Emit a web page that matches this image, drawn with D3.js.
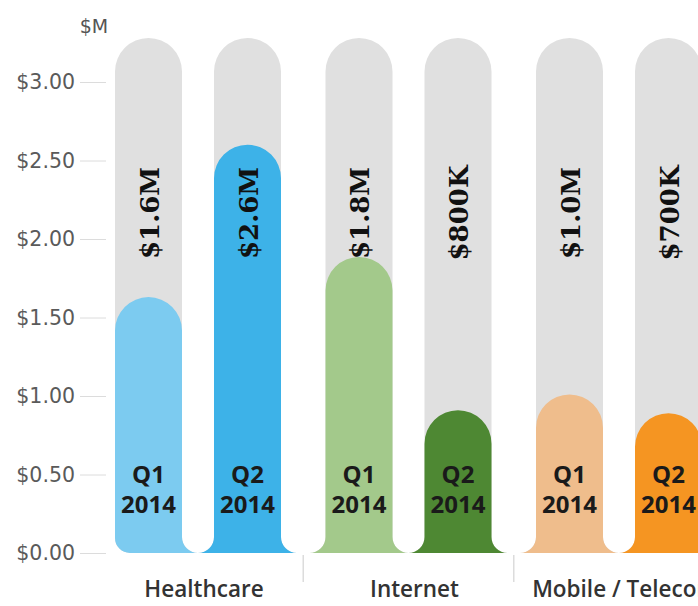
<!DOCTYPE html>
<html>
<head>
<meta charset="utf-8">
<script src="https://cdn.jsdelivr.net/npm/d3@7"></script>
<style>
    body { margin: 0; background: #fff; }
</style>
</head>
<body>
<script>
// values, $M
const categories = ["Healthcare", "Internet", "Mobile / Telecom"];
const quarters = ["Q1", "Q2"];
const year = "2014";
const q1Values = [1.63, 1.885, 1.01];
const q2Values = [2.60, 0.91, 0.89];
const q1Labels = ["$1.6M", "$1.8M", "$1.0M"];
const q2Labels = ["$2.6M", "$800K", "$700K"];
const trackMax = 3.28;
const tickValues = [0, 0.5, 1, 1.5, 2, 2.5, 3];

const colors = {
    "Healthcare": ["#7ccbf0", "#3db2e8"],
    "Internet": ["#a3c98b", "#4e8833"],
    "Mobile / Telecom": ["#efbd8c", "#f59522"]
};

const svgWidth = 698;
const svgHeight = 606;

const svg = d3.select("body").append("svg")
    .attr("width", svgWidth)
    .attr("height", svgHeight);

const data = categories.map((c, i) => ({
    category: c,
    bars: [
        {q: quarters[0], value: q1Values[i], label: q1Labels[i]},
        {q: quarters[1], value: q2Values[i], label: q2Labels[i]}
    ]
}));

const y = d3.scaleLinear().domain([0, 3]).range([553, 82]);

// group bands, outer padding = half the inner gap
const groupGap = 44.5 / 210.5;
const x0 = d3.scaleBand()
    .domain(categories)
    .range([115 - 22.25, 115 - 22.25 + 3 * 210.5])
    .paddingInner(groupGap)
    .paddingOuter(groupGap / 2);

const x1 = d3.scaleBand()
    .domain(quarters)
    .range([0, x0.bandwidth()])
    .paddingInner(0.3232);

const flare = 16;

// rounded top, flared base (first bar gets a plain rounded corner on the left)
function barPath(x, w, yTop, yBase, first) {
    const r = w / 2;
    const p = d3.path();
    p.moveTo(x, yTop + r);
    p.arc(x + r, yTop + r, r, Math.PI, 0);
    p.lineTo(x + w, yBase - flare);
    p.arc(x + w + flare, yBase - flare, flare, Math.PI, Math.PI / 2, true);
    if (first) {
        const c = 15;
        p.lineTo(x + c, yBase);
        p.arc(x + c, yBase - c, c, Math.PI / 2, Math.PI);
    } else {
        p.lineTo(x - flare, yBase);
        p.arc(x - flare, yBase - flare, flare, Math.PI / 2, 0, true);
    }
    p.closePath();
    return p.toString();
}

// y axis
const yAxis = svg.append("g")
    .attr("transform", "translate(106,0)")
    .call(d3.axisLeft(y)
        .tickValues(tickValues)
        .tickFormat(d3.format("$.2f"))
        .tickSize(26)
        .tickPadding(5));
yAxis.select(".domain").remove();
yAxis.selectAll(".tick line").attr("stroke", "#dcdcdc");
yAxis.selectAll(".tick text")
    .attr("fill", "#5a5a5a")
    .attr("font-family", "DejaVu Sans")
    .attr("font-size", "20.5px");

svg.append("text")
    .attr("x", 94)
    .attr("y", 33)
    .attr("text-anchor", "middle")
    .attr("fill", "#555")
    .attr("font-family", "DejaVu Sans")
    .attr("font-size", "19px")
    .text("$M");

const groups = svg.selectAll("g.group")
    .data(data)
    .join("g")
    .attr("class", "group")
    .attr("transform", d => `translate(${x0(d.category)},0)`);

const bars = groups.selectAll("g.bar")
    .data(d => d.bars.map((b, j) => ({...b, category: d.category, j: j})))
    .join("g")
    .attr("class", "bar");

// grey track
bars.append("path")
    .attr("fill", "#e0e0e0")
    .attr("d", d => barPath(x1(d.q), x1.bandwidth(), y(trackMax), y(0),
        d.category === categories[0] && d.j === 0));

// value bar
bars.append("path")
    .attr("fill", d => colors[d.category][d.j])
    .attr("d", d => barPath(x1(d.q), x1.bandwidth(), y(d.value), y(0),
        d.category === categories[0] && d.j === 0));

// value labels, rotated
bars.append("text")
    .attr("transform", d => `translate(${x1(d.q) + x1.bandwidth() / 2 + 1},213) rotate(-90)`)
    .attr("text-anchor", "middle")
    .attr("dy", "0.36em")
    .attr("font-family", "DejaVu Serif")
    .attr("font-weight", "bold")
    .attr("font-size", "26px")
    .attr("fill", "#111")
    .text(d => d.label);

// quarter labels
const qText = bars.append("text")
    .attr("text-anchor", "middle")
    .attr("font-family", "Open Sans")
    .attr("font-weight", "bold")
    .attr("font-size", "24px")
    .attr("fill", "#1a1a1a");
qText.append("tspan")
    .attr("x", d => x1(d.q) + x1.bandwidth() / 2)
    .attr("y", 483)
    .text(d => d.q);
qText.append("tspan")
    .attr("x", d => x1(d.q) + x1.bandwidth() / 2)
    .attr("y", 513)
    .text(year);

// category labels
groups.append("text")
    .attr("x", x0.bandwidth() / 2 + 6)
    .attr("y", 597)
    .attr("text-anchor", "middle")
    .attr("font-family", "Open Sans")
    .attr("font-weight", 600)
    .attr("font-size", "22.5px")
    .attr("fill", "#333")
    .text(d => d.category);

// separators between groups
const sepOffset = x0.step() * x0.paddingInner() / 2;
svg.selectAll("line.sep")
    .data(categories.slice(1))
    .join("line")
    .attr("class", "sep")
    .attr("x1", d => x0(d) - sepOffset)
    .attr("x2", d => x0(d) - sepOffset)
    .attr("y1", 555)
    .attr("y2", 582)
    .attr("stroke", "#dcdcdc")
    .attr("stroke-width", 1.5);
</script>
</body>
</html>
